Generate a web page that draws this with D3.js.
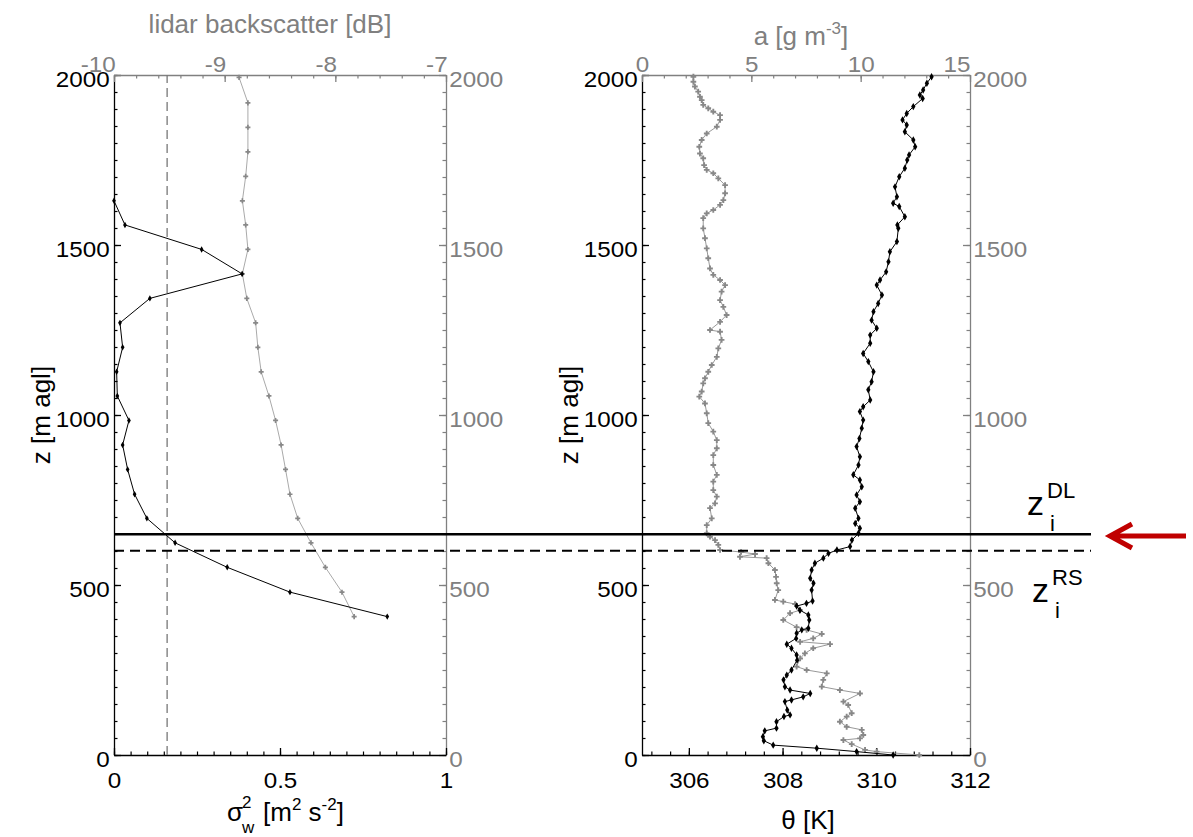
<!DOCTYPE html>
<html>
<head>
<meta charset="utf-8">
<script src="https://cdn.jsdelivr.net/npm/d3@7"></script>
<style>
body { margin: 0; background: #fff; }
text { font-family: "Liberation Sans", Arial, sans-serif; }
</style>
</head>
<body>
<div id="chart"></div>
<script>
// ---- data ----
// left panel: vertical velocity variance (black) and lidar backscatter (grey)
const zSig = [407,479,552,624,696,767,840,912,984,1056,1127,1199,1271,1343,1415,1487,1559,1630]
const sigma2 = [0.823,0.53,0.341,0.184,0.099,0.062,0.041,0.026,0.045,0.01,0.008,0.026,0.018,0.108,0.386,0.264,0.033,0.0]
const zLidar = [407,479,552,624,696,767,840,912,984,1056,1127,1199,1271,1343,1415,1487,1559,1630,1702,1774,1846,1918,1993]
const backscatter = [-7.83,-7.94,-8.09,-8.22,-8.34,-8.41,-8.45,-8.49,-8.54,-8.60,-8.67,-8.70,-8.72,-8.80,-8.84,-8.79,-8.81,-8.84,-8.81,-8.79,-8.79,-8.79,-8.87]
const sigThreshold = 0.16

// right panel: potential temperature (black) and absolute humidity (grey)
const zTheta = [0,10,20,29,42,54,71,79,98,113,118,132,157,162,171,181,191,201,221,235,250,279,294,314,326,343,358,368,373,397,412,426,438,446,453,485,505,520,544,564,579,593,603,613,632,652,667,681,696,726,745,765,789,809,824,853,877,907,931,961,985,1010,1024,1044,1074,1098,1127,1157,1181,1211,1235,1255,1279,1304,1328,1353,1382,1397,1421,1451,1480,1510,1549,1559,1583,1613,1623,1642,1671,1701,1726,1750,1765,1789,1809,1833,1853,1868,1887,1907,1931,1941,1956,1976,1995]
const theta = [310.36,309.58,308.73,307.80,307.60,307.58,307.62,307.87,307.87,308.03,308.16,308.10,308.05,308.19,308.44,308.59,308.16,308.05,308.02,308.09,308.19,308.31,308.30,308.19,308.09,308.29,308.30,308.41,308.55,308.57,308.55,308.37,308.30,308.51,308.64,308.62,308.66,308.59,308.62,308.69,308.87,308.98,309.16,309.44,309.48,309.62,309.65,309.55,309.62,309.55,309.65,309.58,309.69,309.65,309.51,309.62,309.65,309.58,309.64,309.69,309.72,309.65,309.72,309.87,309.83,309.90,309.94,309.83,309.72,309.87,309.87,310.01,309.90,309.94,310.04,310.12,310.01,310.08,310.21,310.26,310.29,310.44,310.47,310.45,310.61,310.49,310.36,310.44,310.40,310.49,310.61,310.66,310.70,310.83,310.79,310.61,310.65,310.56,310.65,310.79,310.99,310.93,311.00,311.08,311.18]
const zHum = [0,10,15,32,44,49,59,74,83,98,113,123,147,157,181,191,201,221,240,250,260,284,299,314,326,333,343,356,368,376,397,417,426,444,451,456,485,505,524,544,564,579,583,591,597,603,618,632,642,652,676,696,726,740,760,779,804,824,853,882,902,926,951,976,1005,1034,1054,1069,1093,1108,1127,1147,1171,1196,1221,1245,1250,1274,1294,1318,1338,1363,1382,1397,1412,1431,1461,1490,1520,1549,1579,1593,1603,1618,1632,1652,1676,1696,1711,1721,1735,1755,1769,1789,1809,1828,1848,1868,1882,1892,1902,1912,1926,1936,1951,1966,1980,1995]
const humidity = [12.68,10.73,10.20,9.59,9.21,9.97,10.12,10.05,9.36,9.05,9.36,9.59,9.43,9.21,9.97,9.05,8.22,8.29,8.45,7.53,7.07,7.23,7.45,7.83,8.60,7.23,7.83,8.22,7.53,7.07,6.46,6.77,7.23,7.00,6.46,6.08,6.23,6.16,6.13,6.08,5.78,5.70,4.48,5.17,4.53,3.57,3.49,3.34,3.11,2.96,2.96,3.19,3.11,3.34,3.42,3.26,3.26,3.42,3.26,3.26,3.42,3.42,3.26,3.03,2.96,2.88,2.62,2.73,2.80,2.88,3.03,3.19,3.42,3.49,3.64,3.57,3.11,3.57,3.87,3.72,3.57,3.64,3.80,3.57,3.26,3.11,3.03,2.96,2.88,2.80,2.80,2.96,3.26,3.57,3.72,3.80,3.80,3.49,3.26,2.96,2.84,2.80,2.65,2.62,2.73,2.96,3.42,3.57,3.57,3.26,3.03,2.80,2.73,2.65,2.57,2.42,2.35,2.35]

// boundary layer heights
const ziDL = 649
const ziRS = 601

// tick values
const zTicks = [0,500,1000,1500,2000]
const sigTicks = [0,0.5,1]
const dbTicks = [-10,-9,-8,-7]
const thTicks = [306,308,310,312]
const aTicks = [0,5,10,15]

const W = 1193, H = 837
const grey = "#808080"
const svg = d3.select("#chart").append("svg").attr("width", W).attr("height", H)
svg.append("rect").attr("width", W).attr("height", H).attr("fill", "#fff")

const y = d3.scaleLinear().domain([0, 2000]).range([755, 75])
const xSig = d3.scaleLinear().domain([0, 1]).range([114, 446])
const xDb = d3.scaleLinear().domain([-10, -7]).range([114, 446])
const xTh = d3.scaleLinear().domain([305, 312]).range([642, 970])
const xA = d3.scaleLinear().domain([0, 15]).range([642, 970])

function drawAxis(axisFn, scale, pos, major, minor, color, pad, fmt) {
    const gm = svg.append("g").attr("transform", pos)
    gm.call(axisFn(scale).tickValues(minor).tickSize(-3.5).tickFormat(""))
    gm.select(".domain").remove()
    gm.selectAll(".tick line").attr("stroke", color).attr("stroke-width", 1.2)

    const g = svg.append("g").attr("transform", pos)
    g.call(axisFn(scale).tickValues(major).tickSizeInner(-7).tickSizeOuter(0)
        .tickPadding(pad).tickFormat(fmt || (d => d)))
    g.select(".domain").attr("stroke", color).attr("stroke-width", 1.3)
    g.selectAll(".tick line").attr("stroke", color).attr("stroke-width", 1.3)
    g.selectAll("text").attr("fill", color).attr("font-size", 22)
        .attr("font-family", '"Liberation Sans", Arial, sans-serif')
        .attr("transform", "scale(1.1,1)")
    return g
}

const zMinor = d3.range(0, 2001, 50)

// ---- left panel axes ----
drawAxis(d3.axisLeft, y, `translate(${xSig(0)},0)`, zTicks, zMinor, "#000", 4)
    .selectAll("text").attr("dy", "0.5em")
drawAxis(d3.axisRight, y, `translate(${xSig(1)},0)`, zTicks, zMinor, grey, 3)
    .selectAll("text").attr("dy", "0.5em")
drawAxis(d3.axisBottom, xSig, `translate(0,${y(0)})`, sigTicks, d3.range(0, 1.001, 0.05), "#000", 17)
drawAxis(d3.axisTop, xDb, `translate(0,${y(2000)})`, dbTicks, d3.range(-10, -6.99, 0.2), grey, 3)
    .selectAll("text").attr("text-anchor", "end").attr("dx", 1)

// ---- right panel axes ----
drawAxis(d3.axisLeft, y, `translate(${xTh(305)},0)`, zTicks, zMinor, "#000", 4)
    .selectAll("text").attr("dy", "0.5em")
drawAxis(d3.axisRight, y, `translate(${xTh(312)},0)`, zTicks, zMinor, grey, 3)
    .selectAll("text").attr("dy", "0.5em")
drawAxis(d3.axisBottom, xTh, `translate(0,${y(0)})`, thTicks, d3.range(305.2, 312.01, 0.4), "#000", 17)
drawAxis(d3.axisTop, xA, `translate(0,${y(2000)})`, aTicks, d3.range(0, 15.01, 1), grey, 3)
    .selectAll("text").attr("text-anchor", (d, i) => i === aTicks.length - 1 ? "end" : "middle")

// ---- threshold line ----
svg.append("line")
    .attr("x1", xSig(sigThreshold)).attr("x2", xSig(sigThreshold))
    .attr("y1", y(0)).attr("y2", y(2000))
    .attr("stroke", "#777").attr("stroke-width", 1.3).attr("stroke-dasharray", "9,5")

// ---- profiles ----
function profile(zs, vals, xs, color, lineColor, symbol, size) {
    const pts = d3.zip(zs, vals)
    svg.append("path").datum(pts)
        .attr("fill", "none").attr("stroke", lineColor).attr("stroke-width", 1)
        .attr("d", d3.line().x(d => xs(d[1])).y(d => y(d[0])))
    svg.append("g").selectAll("path").data(pts).join("path")
        .attr("d", d3.symbol(symbol, size))
        .attr("transform", d => `translate(${xs(d[1])},${y(d[0])})`)
        .attr("fill", color)
}

profile(zLidar, backscatter, xDb, "#888", "#aaa", d3.symbolCross, 14)
profile(zSig, sigma2, xSig, "#000", "#000", d3.symbolDiamond, 12)
profile(zHum, humidity, xA, "#888", "#999", d3.symbolCross, 18)
profile(zTheta, theta, xTh, "#000", "#000", d3.symbolDiamond, 16)

// ---- boundary layer height lines ----
svg.append("line").attr("x1", xSig(0)).attr("x2", 1091)
    .attr("y1", y(ziDL)).attr("y2", y(ziDL))
    .attr("stroke", "#000").attr("stroke-width", 2.5)
svg.append("line").attr("x1", xSig(0)).attr("x2", 1091)
    .attr("y1", y(ziRS)).attr("y2", y(ziRS))
    .attr("stroke", "#000").attr("stroke-width", 2).attr("stroke-dasharray", "10,6")

// z_i labels
function ziLabel(x, base, sup) {
    const f = '"DejaVu Sans", sans-serif'
    svg.append("text").attr("x", x).attr("y", base).attr("font-family", f)
        .attr("font-size", 34).text("z")
    svg.append("text").attr("x", x + 20).attr("y", base - 17).attr("font-family", f)
        .attr("font-size", 22).text(sup)
    svg.append("text").attr("x", x + 23).attr("y", base + 16).attr("font-family", f)
        .attr("font-size", 22).text("i")
}
ziLabel(1027, 515, "DL")
ziLabel(1032, 602, "RS")

// red arrow
svg.append("path")
    .attr("d", "M1186,536 H1111 M1132,524 L1110,536 L1132,548")
    .attr("fill", "none").attr("stroke", "#c00000").attr("stroke-width", 5)
    .attr("stroke-linejoin", "miter")

// ---- axis titles ----
svg.append("text").attr("transform", "translate(50,415) rotate(-90)")
    .attr("text-anchor", "middle").attr("font-size", 26).text("z [m agl]")
svg.append("text").attr("transform", "translate(578,415) rotate(-90)")
    .attr("text-anchor", "middle").attr("font-size", 26).text("z [m agl]")

svg.append("text").attr("x", 270).attr("y", 33).attr("text-anchor", "middle")
    .attr("font-size", 26).attr("fill", grey).text("lidar backscatter [dB]")

const aTitle = svg.append("text").attr("x", 801).attr("y", 45).attr("text-anchor", "middle")
    .attr("font-size", 26).attr("fill", grey)
aTitle.append("tspan").text("a [g m")
aTitle.append("tspan").attr("dy", -11).attr("font-size", 17).text("-3")
aTitle.append("tspan").attr("dy", 11).text("]")

svg.append("text").attr("x", 227).attr("y", 821).attr("font-size", 26).text("σ")
svg.append("text").attr("x", 242).attr("y", 808).attr("font-size", 17).text("2")
svg.append("text").attr("x", 242).attr("y", 833).attr("font-size", 17).text("w")
const sTitle = svg.append("text").attr("x", 263).attr("y", 821).attr("font-size", 26)
sTitle.append("tspan").text("[m")
sTitle.append("tspan").attr("dy", -11).attr("font-size", 17).text("2")
sTitle.append("tspan").attr("dy", 11).text(" s")
sTitle.append("tspan").attr("dy", -11).attr("font-size", 17).text("-2")
sTitle.append("tspan").attr("dy", 11).text("]")

svg.append("text").attr("x", 808).attr("y", 829).attr("text-anchor", "middle")
    .attr("font-size", 26).text("θ [K]")
</script>
</body>
</html>
